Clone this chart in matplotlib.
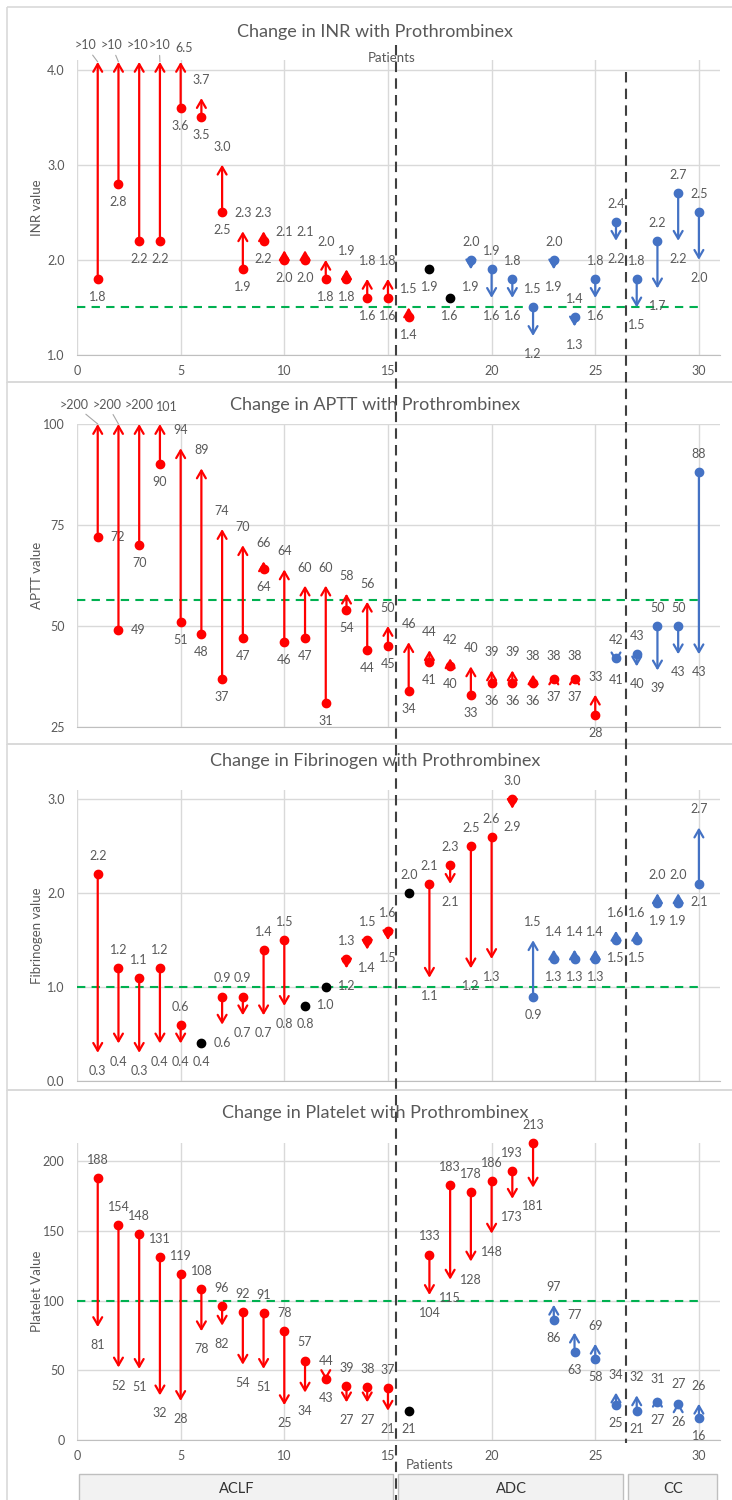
import numpy as np
import matplotlib.pyplot as plt
from matplotlib.patches import Rectangle
from matplotlib.transforms import blended_transform_factory

plt.rcParams['font.family'] = ['Lato', 'DejaVu Sans']

# ---- data (dot = first value, arrow tip = second value) ----
patients = list(range(1, 31))

inr_before = [1.8, 2.8, 2.2, 2.2, 3.6, 3.5, 2.5, 1.9, 2.2, 2.0, 2.0, 1.8, 1.8, 1.6, 1.6,
              1.4, 1.9, 1.6, 2.0, 1.9, 1.8, 1.5, 2.0, 1.4, 1.8, 2.4, 1.8, 2.2, 2.7, 2.5]
inr_after = [4.08, 4.08, 4.08, 4.08, 4.08, 3.7, 3.0, 2.3, 2.3, 2.1, 2.1, 2.0, 1.9, 1.8, 1.8,
             1.5, 1.9, 1.6, 1.9, 1.6, 1.6, 1.2, 1.9, 1.3, 1.6, 2.2, 1.5, 1.7, 2.2, 2.0]
inr_cap_labels = ['>10', '>10', '>10', '>10', '6.5']

aptt_before = [72, 49, 70, 90, 51, 48, 37, 47, 64, 46, 47, 31, 54, 44, 45,
               34, 41, 40, 33, 36, 36, 36, 37, 37, 28, 42, 43, 50, 50, 88]
aptt_after = [100, 100, 100, 100, 94, 89, 74, 70, 66, 64, 60, 60, 58, 56, 50,
              46, 44, 42, 40, 39, 39, 38, 38, 38, 33, 41, 40, 39, 43, 43]
aptt_cap_labels = ['>200', '>200', '>200', '101']

fib_before = [2.2, 1.2, 1.1, 1.2, 0.6, 0.4, 0.9, 0.9, 1.4, 1.5, 0.8, 1.0, 1.3, 1.5, 1.6,
              2.0, 2.1, 2.3, 2.5, 2.6, 3.0, 0.9, 1.3, 1.3, 1.3, 1.5, 1.5, 1.9, 1.9, 2.1]
fib_after = [0.3, 0.4, 0.3, 0.4, 0.4, 0.4, 0.6, 0.7, 0.7, 0.8, 0.8, 1.0, 1.2, 1.4, 1.5,
             2.0, 1.1, 2.1, 1.2, 1.3, 2.9, 1.5, 1.4, 1.4, 1.4, 1.6, 1.6, 2.0, 2.0, 2.7]

plt_before = [188, 154, 148, 131, 119, 108, 96, 92, 91, 78, 57, 44, 39, 38, 37,
              21, 133, 183, 178, 186, 193, 213, 86, 63, 58, 25, 21, 27, 26, 16]
plt_after = [81, 52, 51, 32, 28, 78, 82, 54, 51, 25, 34, 43, 27, 27, 21,
             21, 104, 115, 128, 148, 173, 181, 97, 77, 69, 34, 32, 31, 27, 26]

groups = ['ACLF', 'ADC', 'CC']
group_edges = [0, 15.4, 26.5, 31]

# ---- style ----
RED = '#FF0000'
BLUE = '#4472C4'
GREEN = '#00B050'
GREY_TXT = '#595959'
GRID = '#D9D9D9'
W, H = 732, 1500


def style_axes(ax, ylim, yticks, yfmt, ylabel, show_x):
    ax.set_xlim(0, 31)
    ax.set_ylim(*ylim)
    ax.set_xticks(range(0, 31, 5))
    ax.set_yticks(yticks)
    ax.set_yticklabels([yfmt.format(v) for v in yticks])
    ax.grid(True, color=GRID, lw=1)
    ax.set_axisbelow(True)
    for s in ['top', 'right', 'left']:
        ax.spines[s].set_visible(False)
    ax.spines['bottom'].set_color('#BFBFBF')
    ax.tick_params(length=0, labelcolor=GREY_TXT, labelsize=9)
    ax.tick_params(axis='y', pad=9)
    ax.tick_params(axis='x', pad=7, labelbottom=show_x)
    ax.set_facecolor('none')
    ax.text(-0.062, 0.5, ylabel, transform=ax.transAxes, rotation=90,
            ha='center', va='center', color=GREY_TXT, fontsize=9.5)


def draw_changes(ax, before, after, worse_up, fmt, threshold, skip_after=(), above=(), side=()):
    ax.axhline(threshold, xmin=0, xmax=30 / 31, color=GREEN, lw=1.5, ls=(0, (4, 3)))
    for x, b, a in zip(patients, before, after):
        if a == b:
            col = 'black'
        elif (a > b) == worse_up:
            col = RED
        else:
            col = BLUE
        if a != b:
            ax.annotate('', xy=(x, a), xytext=(x, b), annotation_clip=False,
                        arrowprops=dict(arrowstyle='->,head_length=0.55,head_width=0.32',
                                        color=col, lw=1.6, shrinkA=0, shrinkB=0))
        ax.plot(x, b, 'o', color=col, ms=6, zorder=4, clip_on=False)
        up = 1 if a > b else -1
        if a == b:
            off = 13 if x in above else -13
            ax.annotate(fmt.format(b), (x, b), xytext=(0, off), textcoords='offset points',
                        ha='center', va='center', fontsize=9, color=GREY_TXT)
            continue
        boff = (14, 0) if x in side else (0, -13 * up)
        ax.annotate(fmt.format(b), (x, b), xytext=boff, textcoords='offset points',
                    ha='center', va='center', fontsize=9, color=GREY_TXT)
        if x not in skip_after:
            ax.annotate(fmt.format(a), (x, a), xytext=(0, 13 * up), textcoords='offset points',
                        ha='center', va='center', fontsize=9, color=GREY_TXT)


def cap_labels(ax, after, labels, offsets, leaders):
    for i, (lab, (dx, dy)) in enumerate(zip(labels, offsets)):
        x = patients[i]
        props = dict(arrowstyle='-', color='#A6A6A6', lw=0.8, shrinkA=1, shrinkB=0) if leaders[i] else None
        ax.annotate(lab, (x, after[i]), xytext=(dx, dy), textcoords='offset points',
                    ha='center', va='center', fontsize=9, color=GREY_TXT,
                    arrowprops=props, annotation_clip=False)


fig = plt.figure(figsize=(W / 100, H / 100), dpi=100)

left = 77 / W
width = 31 * 20.73 / W


def add_axes(top_px, bottom_px):
    return fig.add_axes([left, 1 - bottom_px / H, width, (bottom_px - top_px) / H])


ax_inr = add_axes(60, 355)
ax_aptt = add_axes(424, 727)
ax_fib = add_axes(790, 1081)
ax_plt = add_axes(1143, 1440)

style_axes(ax_inr, (1, 4.1), [1, 2, 3, 4], '{:.1f}', 'INR value', True)
style_axes(ax_aptt, (25, 100), [25, 50, 75, 100], '{:.0f}', 'APTT value', False)
style_axes(ax_fib, (0, 3.1), [0, 1, 2, 3], '{:.1f}', 'Fibrinogen value', False)
style_axes(ax_plt, (0, 213), [0, 50, 100, 150, 200], '{:.0f}', 'Platelet Value', True)

draw_changes(ax_inr, inr_before, inr_after, True, '{:.1f}', 1.5, skip_after=(1, 2, 3, 4, 5))
draw_changes(ax_aptt, aptt_before, aptt_after, True, '{:.0f}', 56.5, skip_after=(1, 2, 3, 4),
             side=(1, 2))
draw_changes(ax_fib, fib_before, fib_after, False, '{:.1f}', 1.0, above=(16,))
draw_changes(ax_plt, plt_before, plt_after, False, '{:.0f}', 100)

cap_labels(ax_inr, inr_after, inr_cap_labels,
           [(-9, 12), (-5, 12), (-1.5, 12), (-0.5, 12), (2.5, 10)],
           [True, True, False, True, False])
cap_labels(ax_aptt, aptt_after, aptt_cap_labels,
           [(-17, 14), (-8, 14), (0, 14), (5, 12)],
           [True, True, False, False])

# ---- figure furniture in pixel coordinates ----
ov = fig.add_axes([0, 0, 1, 1], zorder=10)
ov.set_xlim(0, W)
ov.set_ylim(H, 0)
ov.axis('off')
ov.patch.set_alpha(0)

for top, bot in [(7, 382), (382, 744), (744, 1090), (1090, 1510)]:
    ov.add_patch(Rectangle((7, top), 740, bot - top, fill=False, ec=GRID, lw=1.2))

titles = ['Change in INR with Prothrombinex', 'Change in APTT with Prothrombinex',
          'Change in Fibrinogen with Prothrombinex', 'Change in Platelet with Prothrombinex']
for t, y in zip(titles, [32, 405, 761, 1113]):
    ov.text(375, y, t, ha='center', va='center', fontsize=13, color=GREY_TXT)

ov.text(392, 58, 'Patients', ha='center', va='center', fontsize=9.5, color=GREY_TXT)
ov.text(430, 1465, 'Patients', ha='center', va='center', fontsize=9.5, color=GREY_TXT)

tr = blended_transform_factory(ax_inr.transData, ov.transData)
ov.plot([group_edges[1]] * 2, [45, 1500], transform=tr, color='#404040', lw=1.5, ls=(0, (5, 3)))
ov.plot([group_edges[2]] * 2, [72, 1443], transform=tr, color='#404040', lw=1.5, ls=(0, (5, 3)))

for g, x0, x1 in zip(groups, group_edges[:-1], group_edges[1:]):
    ov.add_patch(Rectangle((x0 + 0.1, 1474), x1 - x0 - 0.25, 30, transform=tr,
                           fc='#F2F2F2', ec='#BFBFBF', lw=1))
    ov.text((x0 + x1) / 2, 1489, g, transform=tr, ha='center', va='center',
            fontsize=10.5, color='#333333')

fig.savefig('out.png', dpi=100)
